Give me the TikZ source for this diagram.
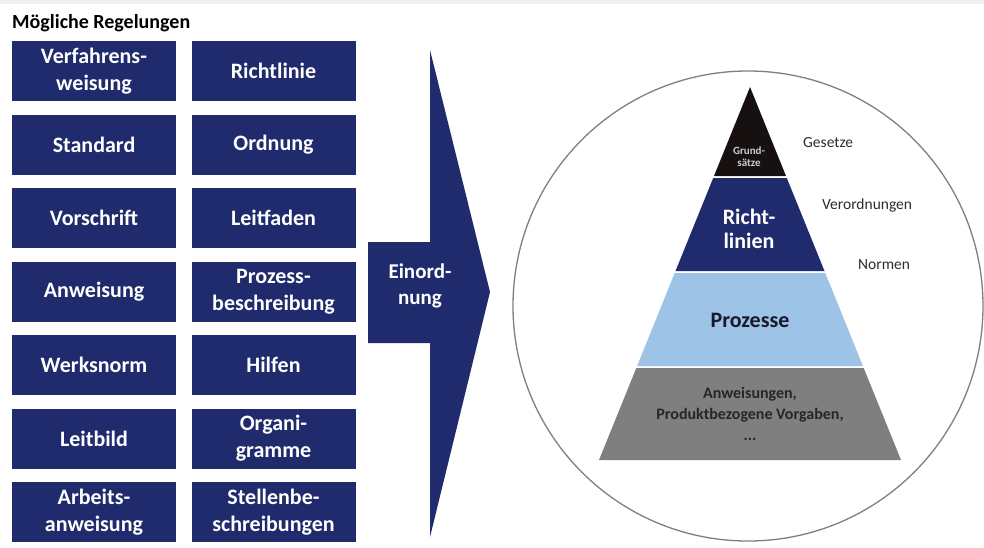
\documentclass[tikz,border=0pt]{standalone}
\usepackage{fontspec}
\setmainfont{Carlito}
\definecolor{navy}{RGB}{31,43,108}
\definecolor{lblue}{RGB}{157,195,230}
\definecolor{pgray}{RGB}{127,127,127}
\definecolor{pblack}{RGB}{22,16,16}
\definecolor{strip}{RGB}{240,240,240}
\definecolor{lbl}{RGB}{45,45,45}
\begin{document}
\begin{tikzpicture}[x=1pt,y=-1pt,
  rbox/.style={fill=navy, text=white, minimum width=164pt, minimum height=60pt, inner sep=0pt, align=center, font=\fontsize{22pt}{27pt}\selectfont\bfseries},
  sidelbl/.style={anchor=west, inner sep=0pt, text=lbl, font=\fontsize{15.5pt}{18pt}\selectfont},
  laytxt/.style={align=center, inner sep=0pt}]
\useasboundingbox (0,0) rectangle (984,547);
\fill[white] (0,0) rectangle (984,547);
\fill[strip] (0,0) rectangle (984,3.5);

% title
\node[anchor=base west, inner sep=0pt, font=\fontsize{20pt}{23pt}\selectfont\bfseries] (title) at (12,28) {Mögliche Regelungen};

% boxes
\node[rbox] (b1)  at (94,71)    {Verfahrens-\\weisung};
\node[rbox] (b2)  at (273.5,71) {Richtlinie};
\node[rbox] (b3)  at (94,144.5) {Standard};
\node[rbox] (b4)  at (273.5,144.5) {Ordnung};
\node[rbox] (b5)  at (94,218)   {Vorschrift};
\node[rbox] (b6)  at (273.5,218) {Leitfaden};
\node[rbox] (b7)  at (94,291.5) {Anweisung};
\node[rbox] (b8)  at (273.5,291.5) {Prozess-\\beschreibung};
\node[rbox] (b9)  at (94,365)   {Werksnorm};
\node[rbox] (b10) at (273.5,365) {Hilfen};
\node[rbox] (b11) at (94,438.5) {Leitbild};
\node[rbox] (b12) at (273.5,438.5) {Organi-\\gramme};
\node[rbox] (b13) at (94,512)   {Arbeits-\\anweisung};
\node[rbox] (b14) at (273.5,512) {Stellenbe-\\schreibungen};

% big arrow
\fill[navy] (368,242) -- (430,242) -- (430,50) -- (490,292) -- (430,537) -- (430,343) -- (368,343) -- cycle;
\node[laytxt, text=white, font=\fontsize{21pt}{26pt}\selectfont\bfseries] (einord) at (420,286) {Einord-\\nung};

% circle
\node[circle, draw=pgray, line width=1.3pt, minimum size=470pt, inner sep=0pt] (circ) at (748,306) {};

% pyramid
\fill[pblack] (750,87) -- (786,176) -- (714,176) -- cycle;
\fill[navy] (713.2,178) -- (786.8,178) -- (824.5,271) -- (675.5,271) -- cycle;
\fill[lblue] (674.7,273) -- (825.3,273) -- (862.9,366) -- (637.1,366) -- cycle;
\fill[pgray] (636.3,368) -- (863.7,368) -- (901,460) -- (599,460) -- cycle;

\node[laytxt, text=white!80!black, font=\fontsize{11pt}{12pt}\selectfont\bfseries] (grund) at (749,157) {Grund-\\sätze};
\node[laytxt, text=white, font=\fontsize{22pt}{24pt}\selectfont\bfseries] (richt) at (749,229) {Richt-\\linien};
\node[laytxt, text=pblack!70!navy, font=\fontsize{22pt}{26pt}\selectfont\bfseries] (proz) at (750,320) {Prozesse};
\node[laytxt, text=black!85, font=\fontsize{16pt}{21pt}\selectfont\bfseries] (anw) at (750,414) {Anweisungen,\\Produktbezogene Vorgaben,\\...};

% side labels
\node[sidelbl] (ges) at (803,143) {Gesetze};
\node[sidelbl] (ver) at (822,205) {Verordnungen};
\node[sidelbl] (nor) at (858,265) {Normen};
\end{tikzpicture}
\end{document}
